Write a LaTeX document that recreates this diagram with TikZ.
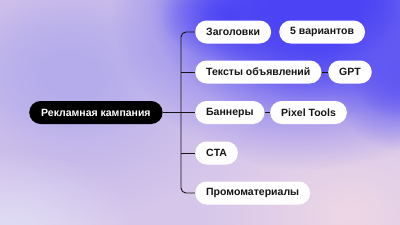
\documentclass[tikz,border=0pt]{standalone}
\usepackage{fontspec}
\setmainfont{Liberation Sans}
\usetikzlibrary{fadings}
\tikzfading[name=blobfade, inner color=transparent!0, outer color=transparent!100]
\definecolor{bgbase}{HTML}{D6C6EA}
\definecolor{bgleft}{HTML}{B4ACEC}
\definecolor{bgblue}{HTML}{4C44F5}
\definecolor{bgpink}{HTML}{EED8E6}
\definecolor{bglow}{HTML}{E0DEF6}
\definecolor{ink}{HTML}{141414}
\tikzset{
  pill/.style={fill=white, rounded corners=11.5pt, minimum height=23pt, inner xsep=11pt, inner ysep=0pt, anchor=west, text=ink, font=\fontsize{10.5}{12}\selectfont\bfseries},
  rootpill/.style={pill, fill=black, text=white, inner xsep=12pt},
  link/.style={draw=ink, line width=0.9pt},
  blob/.style={path fading=blobfade},
}
\begin{document}
\begin{tikzpicture}[x=1pt, y=-1pt]
  \useasboundingbox (0,0) rectangle (400,225);
  % background
  \fill[bgbase] (0,0) rectangle (400,225);
  \fill[bgleft, blob] (-80,-60) rectangle (240,220);
  \fill[bgleft, blob] (-40,0) rectangle (160,140);
  \fill[bglow, blob] (-120,150) rectangle (140,320);
  \fill[bgpink, blob] (200,100) rectangle (500,330);
  \fill[bgblue, blob] (110,-160) rectangle (510,170);
  \fill[bgblue, blob] (150,-110) rectangle (470,120);
  \fill[bgblue, blob] (200,-80) rectangle (440,100);
  \fill[bgblue, blob] (240,-50) rectangle (400,60);
  \fill[bgblue, blob] (160,-30) rectangle (300,60);
  \fill[bgblue!85!bgbase, blob] (330,0) rectangle (470,150);
  \fill[bgblue!85!bgbase, blob] (350,20) rectangle (450,120);

  % nodes
  \node[rootpill] (root) at (29,112.5) {Рекламная кампания};
  \node[pill] (zag) at (195,32) {Заголовки};
  \node[pill] (var) at (279,32) {5 вариантов};
  \node[pill] (txt) at (195,72) {Тексты объявлений};
  \node[pill] (gpt) at (328,72) {GPT};
  \node[pill] (ban) at (195,112.5) {Баннеры};
  \node[pill] (pix) at (270,112.5) {Pixel Tools};
  \node[pill] (cta) at (195,153) {CTA};
  \node[pill] (pro) at (195,193) {Промоматериалы};
  \coordinate (trunk) at (181,112.5);

  % connectors
  \draw[link, rounded corners=5pt] (zag.west) -| (trunk) |- (pro.west);
  \draw[link] (root.east) -- (ban.west);
  \draw[link] (txt.west) -- (trunk |- txt.west);
  \draw[link] (cta.west) -- (trunk |- cta.west);
  \draw[link] (txt.east) -- (gpt.west);
  \draw[link] (ban.east) -- (pix.west);
\end{tikzpicture}
\end{document}
